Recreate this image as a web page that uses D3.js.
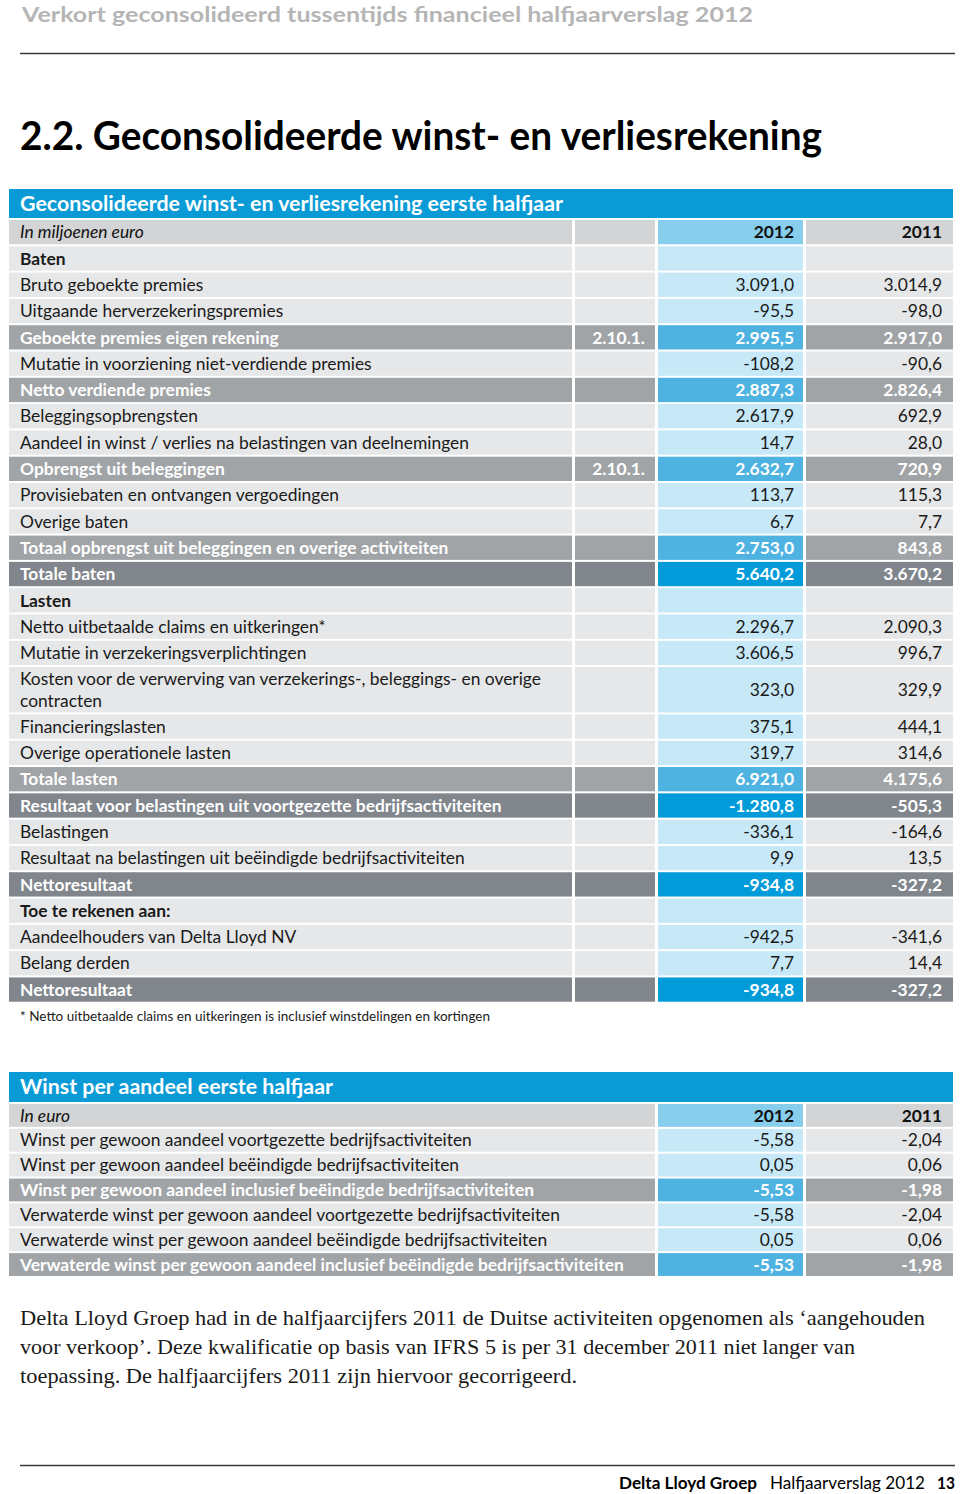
<!DOCTYPE html>
<html><head><meta charset="utf-8">
<script src="https://cdn.jsdelivr.net/npm/d3@7"></script>
<style>body{margin:0;background:#fff} svg{display:block}</style>
</head><body>
<script>
// ---------- DATA ----------
const incomeLabels = [
  "In miljoenen euro","Baten","Bruto geboekte premies","Uitgaande herverzekeringspremies",
  "Geboekte premies eigen rekening","Mutatie in voorziening niet-verdiende premies",
  "Netto verdiende premies","Beleggingsopbrengsten",
  "Aandeel in winst / verlies na belastingen van deelnemingen","Opbrengst uit beleggingen",
  "Provisiebaten en ontvangen vergoedingen","Overige baten",
  "Totaal opbrengst uit beleggingen en overige activiteiten","Totale baten","Lasten",
  "Netto uitbetaalde claims en uitkeringen*","Mutatie in verzekeringsverplichtingen",
  "Kosten voor de verwerving van verzekerings-, beleggings- en overige|contracten",
  "Financieringslasten","Overige operationele lasten","Totale lasten",
  "Resultaat voor belastingen uit voortgezette bedrijfsactiviteiten","Belastingen",
  "Resultaat na belastingen uit beëindigde bedrijfsactiviteiten","Nettoresultaat",
  "Toe te rekenen aan:","Aandeelhouders van Delta Lloyd NV","Belang derden","Nettoresultaat"
];
const incomeNotes = ["","","","","2.10.1.","","","","","2.10.1.","","","","","","","","","","","","","","","","","","",""];
const income2012 = [null,null,3091.0,-95.5,2995.5,-108.2,2887.3,2617.9,14.7,2632.7,113.7,6.7,2753.0,5640.2,null,
  2296.7,3606.5,323.0,375.1,319.7,6921.0,-1280.8,-336.1,9.9,-934.8,null,-942.5,7.7,-934.8];
const income2011 = [null,null,3014.9,-98.0,2917.0,-90.6,2826.4,692.9,28.0,720.9,115.3,7.7,843.8,3670.2,null,
  2090.3,996.7,329.9,444.1,314.6,4175.6,-505.3,-164.6,13.5,-327.2,null,-341.6,14.4,-327.2];
const incomeTypes = ["head","section","normal","normal","sub","normal","sub","normal","normal","sub",
  "normal","normal","sub","total","section","normal","normal","double","normal","normal","sub","total",
  "normal","normal","total","section","normal","normal","total"];

const epsLabels = ["In euro",
  "Winst per gewoon aandeel voortgezette bedrijfsactiviteiten",
  "Winst per gewoon aandeel beëindigde bedrijfsactiviteiten",
  "Winst per gewoon aandeel inclusief beëindigde bedrijfsactiviteiten",
  "Verwaterde winst per gewoon aandeel voortgezette bedrijfsactiviteiten",
  "Verwaterde winst per gewoon aandeel beëindigde bedrijfsactiviteiten",
  "Verwaterde winst per gewoon aandeel inclusief beëindigde bedrijfsactiviteiten"];
const eps2012 = [null,-5.58,0.05,-5.53,-5.58,0.05,-5.53];
const eps2011 = [null,-2.04,0.06,-1.98,-2.04,0.06,-1.98];
const epsTypes = ["head","normal","normal","sub","normal","normal","sub"];

const yearLabels = ["2012","2011"];
const pageHeader = "Verkort geconsolideerd tussentijds financieel halfjaarverslag 2012";
const sectionTitle = "2.2. Geconsolideerde winst- en verliesrekening";
const table1Title = "Geconsolideerde winst- en verliesrekening eerste halfjaar";
const table2Title = "Winst per aandeel eerste halfjaar";
const footnote = "* Netto uitbetaalde claims en uitkeringen is inclusief winstdelingen en kortingen";
const paragraph = [
  "Delta Lloyd Groep had in de halfjaarcijfers 2011 de Duitse activiteiten opgenomen als ‘aangehouden",
  "voor verkoop’. Deze kwalificatie op basis van IFRS 5 is per 31 december 2011 niet langer van",
  "toepassing. De halfjaarcijfers 2011 zijn hiervoor gecorrigeerd."];
const footerParts = ["Delta Lloyd Groep","Halfjaarverslag 2012","13"];

// ---------- RENDER ----------
const W = 960, H = 1494;
const svg = d3.select("body").append("svg").attr("width", W).attr("height", H);
const FONT = "Lato, 'Open Sans', sans-serif";
const SERIF = "'Liberation Serif', 'DejaVu Serif', serif";
const FS = 17.4;

const nl = d3.formatLocale({decimal:",", thousands:".", grouping:[3], currency:["€",""], minus:"-"});
const fmt1 = nl.format(",.1f"), fmt2 = nl.format(",.2f");

const fills = {
  normal:{base:"#e6e7e8", blue:"#c6e8f7", text:"#1a1a1a", weight:400},
  section:{base:"#e6e7e8", blue:"#c6e8f7", text:"#1a1a1a", weight:700},
  double:{base:"#e6e7e8", blue:"#c6e8f7", text:"#1a1a1a", weight:400},
  head:{base:"#d3d4d5", blue:"#87cdec", text:"#111", weight:700},
  sub:{base:"#a1a4a7", blue:"#4fb3e2", text:"#ffffff", weight:700},
  total:{base:"#80868c", blue:"#009bd8", text:"#ffffff", weight:700}
};
const BLUE = "#0a9bd7";

function fitText(sel, width){ sel.attr("textLength", width).attr("lengthAdjust","spacingAndGlyphs"); }

// page header
svg.append("text").attr("x",22).attr("y",21.5).attr("font-family",FONT).attr("font-size",21.5)
  .attr("font-weight",700).attr("fill","#b5b5b5").text(pageHeader).call(fitText,731);
svg.append("line").attr("x1",20).attr("x2",955).attr("y1",53.5).attr("y2",53.5)
  .attr("stroke","#3a3a3a").attr("stroke-width",1.5);
svg.append("text").attr("x",20).attr("y",150).attr("font-family",FONT).attr("font-size",40)
  .attr("font-weight",700).attr("fill","#000").text(sectionTitle).call(fitText,802);

// generic table builder
function buildTable(opts){
  const {top, titleTop, title, titleWidth, labels, notes, v12, v11, types, pitch, x, fmt, mergeNote} = opts;
  const g = svg.append("g");
  g.append("rect").attr("x",9).attr("y",titleTop).attr("width",944).attr("height",top-titleTop-2).attr("fill",BLUE);
  g.append("text").attr("x",20).attr("y",titleTop+(top-titleTop-2)/2+7).attr("font-family",FONT)
    .attr("font-size",20).attr("font-weight",700).attr("fill","#fff").text(title).call(fitText,titleWidth);

  const units = types.map(t => t==="double" ? 1.8 : 1);
  const starts = d3.cumsum([0].concat(units));
  const y = d3.scaleLinear().domain([0, d3.sum(units)]).range([top, top + d3.sum(units)*pitch]);

  const rows = labels.map((l,i)=>({label:l, note:notes ? notes[i] : "", v12:v12[i], v11:v11[i], type:types[i],
    y0:y(i===0?0:starts[i]), y1:y(starts[i+1]) - 2}));

  const rg = g.selectAll("g.row").data(rows).join("g").attr("class","row");
  const cols = mergeNote
    ? [{k:"label", x0:x.label[0], x1:x.note[1], c:"base"}, {k:"v12", x0:x.y2012[0], x1:x.y2012[1], c:"blue"}, {k:"v11", x0:x.y2011[0], x1:x.y2011[1], c:"base"}]
    : [{k:"label", x0:x.label[0], x1:x.label[1], c:"base"}, {k:"note", x0:x.note[0], x1:x.note[1], c:"base"},
       {k:"v12", x0:x.y2012[0], x1:x.y2012[1], c:"blue"}, {k:"v11", x0:x.y2011[0], x1:x.y2011[1], c:"base"}];
  cols.forEach(c=>{
    rg.append("rect").attr("x",c.x0).attr("y",d=>d.y0).attr("width",c.x1-c.x0).attr("height",d=>d.y1-d.y0)
      .attr("fill",d=>fills[d.type][c.c]);
  });
  const off = 6.2;
  rg.each(function(d){
    const s = fills[d.type];
    const lines = d.label.split("|");
    const cy = (d.y0+d.y1)/2;
    const lh = 22;
    lines.forEach((ln,j)=>{
      d3.select(this).append("text").attr("x",20)
        .attr("y", cy + off + (j - (lines.length-1)/2)*lh)
        .attr("font-family",FONT).attr("font-size",FS)
        .attr("font-weight", d.type==="head" ? 400 : s.weight)
        .attr("font-style", d.type==="head" ? "italic" : "normal")
        .attr("fill", s.text).text(ln);
    });
    if (d.note) d3.select(this).append("text").attr("x",x.note[1]-10).attr("y",cy+off).attr("text-anchor","end")
      .attr("font-family",FONT).attr("font-size",FS).attr("font-weight",s.weight).attr("fill",s.text).text(d.note);
    const t12 = d.type==="head" ? yearLabels[0] : (d.v12==null ? "" : fmt(d.v12));
    const t11 = d.type==="head" ? yearLabels[1] : (d.v11==null ? "" : fmt(d.v11));
    d3.select(this).append("text").attr("x",x.y2012[1]-9).attr("y",cy+off).attr("text-anchor","end")
      .attr("font-family",FONT).attr("font-size",FS).attr("font-weight",s.weight).attr("fill",s.text).text(t12);
    d3.select(this).append("text").attr("x",x.y2011[1]-11).attr("y",cy+off).attr("text-anchor","end")
      .attr("font-family",FONT).attr("font-size",FS).attr("font-weight",s.weight).attr("fill",s.text).text(t11);
  });
}

const colX = {label:[9,572], note:[575,655], y2012:[658,803], y2011:[806,953]};

buildTable({top:220, titleTop:189, title:table1Title, titleWidth:543, labels:incomeLabels, notes:incomeNotes,
  v12:income2012, v11:income2011, types:incomeTypes, pitch:26.3, x:colX, fmt:fmt1, mergeNote:false});

svg.append("text").attr("x",20).attr("y",1021).attr("font-family",FONT).attr("font-size",13)
  .attr("fill","#1a1a1a").text(footnote).call(fitText,470);

buildTable({top:1104, titleTop:1072, title:table2Title, titleWidth:313, labels:epsLabels, notes:null,
  v12:eps2012, v11:eps2011, types:epsTypes, pitch:24.85, x:colX, fmt:fmt2, mergeNote:true});

// paragraph
const pw = [905, 835, 557];
paragraph.forEach((ln,i)=>{
  svg.append("text").attr("x",20).attr("y",1325 + i*29).attr("font-family",SERIF).attr("font-size",21.5)
    .attr("fill","#1a1a1a").text(ln).call(fitText,pw[i]);
});

// footer
svg.append("line").attr("x1",20).attr("x2",955).attr("y1",1465.5).attr("y2",1465.5)
  .attr("stroke","#3a3a3a").attr("stroke-width",1.5);
const fy = 1489;
svg.append("text").attr("x",619).attr("y",fy).attr("font-family",FONT).attr("font-size",17.5).attr("font-weight",700)
  .attr("fill","#000").text(footerParts[0]).call(fitText,138);
svg.append("text").attr("x",770).attr("y",fy).attr("font-family",FONT).attr("font-size",17.5)
  .attr("fill","#000").text(footerParts[1]).call(fitText,155);
svg.append("text").attr("x",937).attr("y",fy).attr("font-family",FONT).attr("font-size",17.5).attr("font-weight",700)
  .attr("fill","#000").text(footerParts[2]).call(fitText,18);
</script>
</body></html>
